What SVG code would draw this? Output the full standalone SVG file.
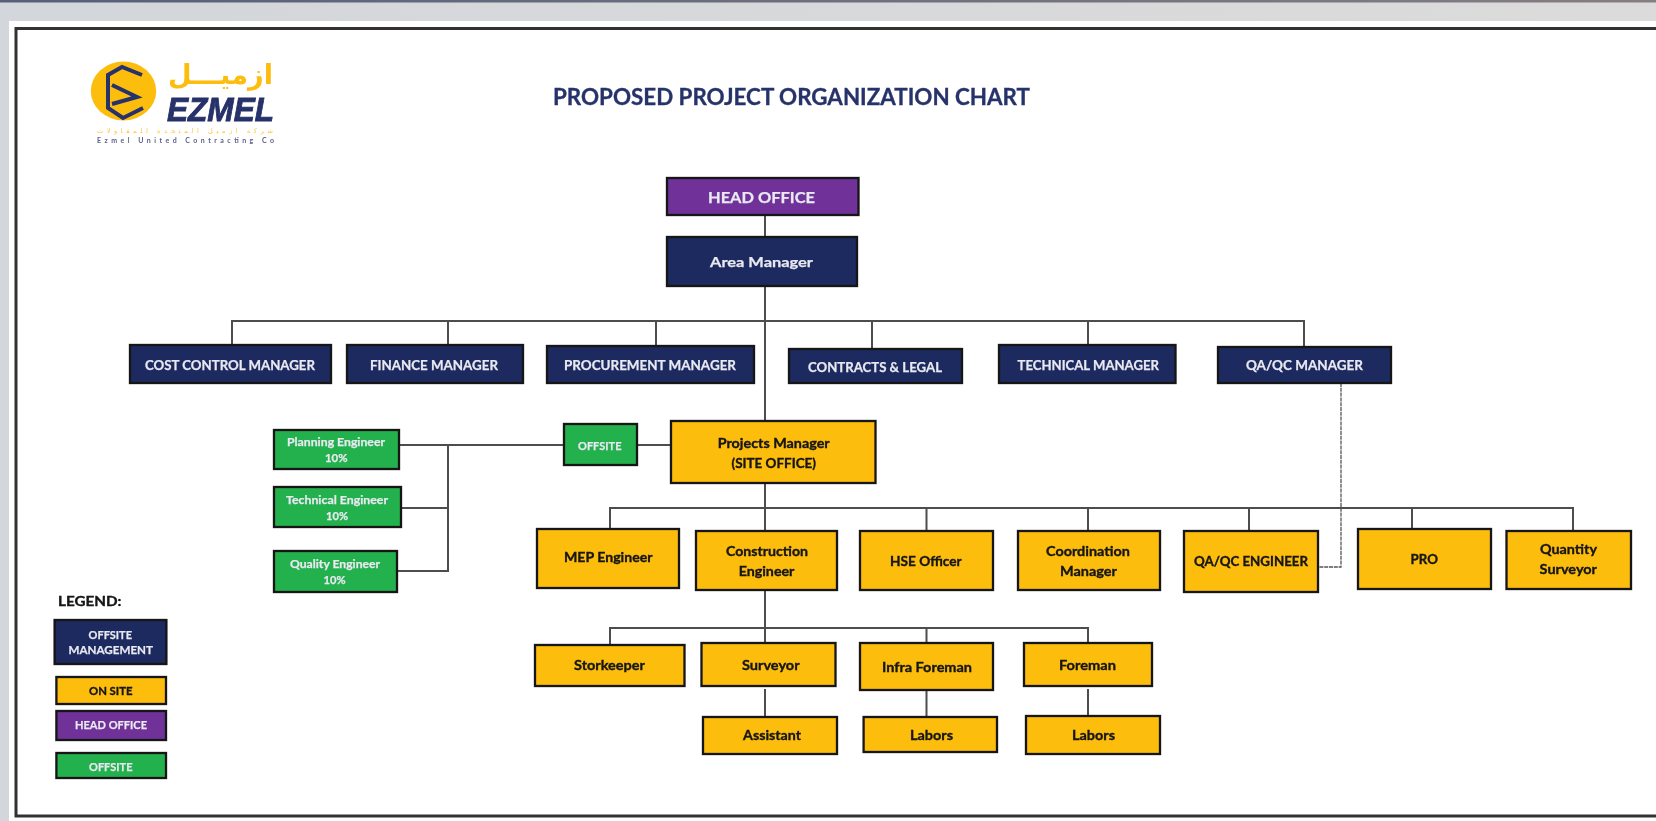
<svg xmlns="http://www.w3.org/2000/svg" width="1656" height="821" viewBox="0 0 1656 821">
<style>
text{font-family:"Lato","Open Sans","Liberation Sans",sans-serif;font-weight:700}
.b{stroke:#141414;stroke-width:2.300}
.navy{fill:#1c2a5e}.yel{fill:#fdbd10}.grn{fill:#23b14d}.pur{fill:#6f3399}
.w{fill:#e9e9f2;stroke:#e9e9f2;stroke-width:.25;font-size:14px}.k{fill:#141414;stroke:#141414;stroke-width:.35;font-size:14px}.s{font-size:12px}
.c{fill:none;stroke:#4d4d4d;stroke-width:2}
.d{fill:none;stroke:#555;stroke-width:1.300;stroke-dasharray:4 .8}
</style>
<defs>
<filter id="soft" filterUnits="userSpaceOnUse" x="0" y="0" width="1656" height="821"><feGaussianBlur stdDeviation="0.75"/></filter>
<linearGradient id="bg" x1="0" y1="0" x2="1" y2="0"><stop offset="0" stop-color="#d3d6da"/><stop offset="1" stop-color="#dcdbdb"/></linearGradient>
<linearGradient id="top" x1="0" y1="0" x2="1" y2="0"><stop offset="0" stop-color="#56607a"/><stop offset="1" stop-color="#857e82"/></linearGradient>
</defs>
<rect width="1656" height="821" fill="url(#bg)"/>
<rect width="1656" height="2.500" fill="url(#top)"/>
<rect x="9" y="21" width="1647" height="800" fill="#fff"/>
<g filter="url(#soft)">
<path d="M1660 28.500H16V816H1660" fill="none" stroke="#333" stroke-width="3"/>

<g id="connectors">
<path class="c" d="M765 215V237M765 286V421M232 345V321H1304V347M448 321V345M656 321V346M872 321V349M1088 321V345"/>
<path class="c" d="M399 445H564M637 445H671M448 445V571H397M401 508H448"/>
<path class="c" d="M765 483V531M610 529V508H1573V531M926.500 508V531M1088 508V531M1249 508V531M1412 508V529"/>
<path class="c" d="M765 590V643M610 645V628H1088V643M926.500 628V643M765 689V717M926.500 690V717M1088 689V716"/>
<path class="d" d="M1341 383V567H1319"/>
</g>

<g id="logo">
<ellipse cx="123.500" cy="91" rx="32.700" ry="29.500" fill="#fdbd10"/>
<path d="M142 75L122 67L108 75V108L123 118L143 108M112 85L137 97L112 104" fill="none" stroke="#27306a" stroke-width="4"/>
<text x="273" y="84" textLength="105" lengthAdjust="spacingAndGlyphs" direction="rtl" style="font-family:'DejaVu Sans',sans-serif;font-size:28px;fill:#fdbd10">ازميـــل</text>
<text x="167" y="120.500" textLength="107" lengthAdjust="spacingAndGlyphs" style="font-family:'Liberation Sans',sans-serif;font-style:italic;font-size:34px;fill:#27306a;stroke:#27306a;stroke-width:.9">EZMEL</text>
<text x="273" y="133" textLength="176" style="font-family:'DejaVu Sans',sans-serif;font-size:6.500px;fill:#fdc840;font-weight:400" direction="rtl">شركة ازميل المتحدة للمقاولات</text>
<text x="97" y="142.500" textLength="177" style="font-size:7px;fill:#5a6088">Ezmel United Contracting Co</text>
</g>

<text id="title" x="553" y="105" textLength="477" lengthAdjust="spacingAndGlyphs" style="font-size:22px;fill:#27336a;stroke:#27336a;stroke-width:.3">PROPOSED PROJECT ORGANIZATION CHART</text>

<g id="head-office"><rect class="b pur" x="667" y="178" width="191.500" height="37"/><text class="w" style="font-size:16px" x="708" y="203" textLength="107" lengthAdjust="spacingAndGlyphs">HEAD OFFICE</text></g>
<g id="area-manager"><rect class="b navy" x="667" y="237" width="190" height="49"/><text class="w" x="710" y="267" textLength="103" lengthAdjust="spacingAndGlyphs">Area Manager</text></g>
<g id="cost-control"><rect class="b navy" x="130" y="345" width="201" height="38"/><text class="w" x="145" y="370" textLength="170" lengthAdjust="spacingAndGlyphs">COST CONTROL MANAGER</text></g>
<g id="finance"><rect class="b navy" x="347" y="345" width="176" height="38"/><text class="w" x="370" y="370" textLength="128" lengthAdjust="spacingAndGlyphs">FINANCE MANAGER</text></g>
<g id="procurement"><rect class="b navy" x="547" y="346" width="207" height="37"/><text class="w" x="564" y="370" textLength="172" lengthAdjust="spacingAndGlyphs">PROCUREMENT MANAGER</text></g>
<g id="contracts"><rect class="b navy" x="789" y="349" width="173" height="34"/><text class="w" x="808" y="372" textLength="134" lengthAdjust="spacingAndGlyphs">CONTRACTS &amp; LEGAL</text></g>
<g id="technical-manager"><rect class="b navy" x="999" y="345" width="176.500" height="38"/><text class="w" x="1017.500" y="370" textLength="141.500" lengthAdjust="spacingAndGlyphs">TECHNICAL MANAGER</text></g>
<g id="qaqc-manager"><rect class="b navy" x="1218" y="347" width="173" height="36"/><text class="w" x="1246" y="370" textLength="117" lengthAdjust="spacingAndGlyphs">QA/QC MANAGER</text></g>

<g id="planning"><rect class="b grn" x="274" y="430" width="125" height="39"/><text class="w s" x="287" y="446" textLength="98" lengthAdjust="spacingAndGlyphs">Planning Engineer</text><text class="w s" x="325" y="462" textLength="22.500" lengthAdjust="spacingAndGlyphs">10%</text></g>
<g id="technical-engineer"><rect class="b grn" x="274" y="487" width="127" height="40"/><text class="w s" x="286" y="504" textLength="102" lengthAdjust="spacingAndGlyphs">Technical Engineer</text><text class="w s" x="326" y="520" textLength="22" lengthAdjust="spacingAndGlyphs">10%</text></g>
<g id="quality-engineer"><rect class="b grn" x="274" y="551" width="123" height="41"/><text class="w s" x="290" y="568" textLength="90" lengthAdjust="spacingAndGlyphs">Quality Engineer</text><text class="w s" x="323.500" y="584" textLength="22" lengthAdjust="spacingAndGlyphs">10%</text></g>
<g id="offsite"><rect class="b grn" x="564" y="424" width="73" height="41"/><text class="w s" x="578" y="450" textLength="43.500" lengthAdjust="spacingAndGlyphs">OFFSITE</text></g>
<g id="projects-manager"><rect class="b yel" x="671" y="421" width="204.500" height="62"/><text class="k" x="717.700" y="448" textLength="112" lengthAdjust="spacingAndGlyphs">Projects Manager</text><text class="k" x="731.500" y="468" textLength="84.500" lengthAdjust="spacingAndGlyphs">(SITE OFFICE)</text></g>

<g id="mep"><rect class="b yel" x="537" y="529" width="142" height="59"/><text class="k" x="564" y="562" textLength="88.500" lengthAdjust="spacingAndGlyphs">MEP Engineer</text></g>
<g id="construction"><rect class="b yel" x="696" y="531" width="141" height="59"/><text class="k" x="726" y="556" textLength="82" lengthAdjust="spacingAndGlyphs">Construction</text><text class="k" x="738.700" y="576" textLength="55.700" lengthAdjust="spacingAndGlyphs">Engineer</text></g>
<g id="hse"><rect class="b yel" x="860" y="531" width="133" height="59"/><text class="k" x="890" y="566" textLength="71.700" lengthAdjust="spacingAndGlyphs">HSE Officer</text></g>
<g id="coordination"><rect class="b yel" x="1018" y="531" width="142" height="59"/><text class="k" x="1046" y="556" textLength="84" lengthAdjust="spacingAndGlyphs">Coordination</text><text class="k" x="1060" y="576" textLength="57" lengthAdjust="spacingAndGlyphs">Manager</text></g>
<g id="qaqc-engineer"><rect class="b yel" x="1184" y="531" width="134" height="61"/><text class="k" x="1194" y="566" textLength="114" lengthAdjust="spacingAndGlyphs">QA/QC ENGINEER</text></g>
<g id="pro"><rect class="b yel" x="1358" y="529" width="133" height="60"/><text class="k" x="1410.600" y="564" textLength="27.400" lengthAdjust="spacingAndGlyphs">PRO</text></g>
<g id="quantity"><rect class="b yel" x="1506.500" y="531" width="124.500" height="58"/><text class="k" x="1540" y="554" textLength="57" lengthAdjust="spacingAndGlyphs">Quantity</text><text class="k" x="1539.600" y="574" textLength="57.400" lengthAdjust="spacingAndGlyphs">Surveyor</text></g>

<g id="storekeeper"><rect class="b yel" x="535" y="645" width="149.500" height="41"/><text class="k" x="574" y="670" textLength="71" lengthAdjust="spacingAndGlyphs">Storkeeper</text></g>
<g id="surveyor"><rect class="b yel" x="701.500" y="643" width="134" height="43"/><text class="k" x="742" y="670" textLength="57.600" lengthAdjust="spacingAndGlyphs">Surveyor</text></g>
<g id="infra-foreman"><rect class="b yel" x="860" y="643" width="133" height="47"/><text class="k" x="882" y="672" textLength="90" lengthAdjust="spacingAndGlyphs">Infra Foreman</text></g>
<g id="foreman"><rect class="b yel" x="1024" y="643" width="128" height="43"/><text class="k" x="1059" y="670" textLength="57" lengthAdjust="spacingAndGlyphs">Foreman</text></g>
<g id="assistant"><rect class="b yel" x="703" y="717" width="134" height="37"/><text class="k" x="743" y="740" textLength="58" lengthAdjust="spacingAndGlyphs">Assistant</text></g>
<g id="labors-1"><rect class="b yel" x="863.600" y="717" width="133.400" height="35"/><text class="k" x="910" y="740" textLength="43" lengthAdjust="spacingAndGlyphs">Labors</text></g>
<g id="labors-2"><rect class="b yel" x="1026" y="716" width="134" height="38"/><text class="k" x="1072" y="740" textLength="43" lengthAdjust="spacingAndGlyphs">Labors</text></g>

<g id="legend">
<text class="k" x="58" y="606" textLength="63.500" lengthAdjust="spacingAndGlyphs">LEGEND:</text>
<g id="legend-management"><rect class="b navy" x="54.600" y="620" width="111.800" height="44"/><text class="w s" x="88.600" y="639" textLength="43.400" lengthAdjust="spacingAndGlyphs">OFFSITE</text><text class="w s" x="68.600" y="654" textLength="84.400" lengthAdjust="spacingAndGlyphs">MANAGEMENT</text></g>
<g id="legend-onsite"><rect class="b yel" x="56.400" y="677" width="109.600" height="27"/><text class="k s" x="89" y="695" textLength="43.500" lengthAdjust="spacingAndGlyphs">ON SITE</text></g>
<g id="legend-head"><rect class="b pur" x="56.400" y="711" width="109.600" height="29"/><text class="w s" x="75" y="729" textLength="72" lengthAdjust="spacingAndGlyphs">HEAD OFFICE</text></g>
<g id="legend-offsite"><rect class="b grn" x="56.400" y="753" width="109.600" height="25"/><text class="w s" x="89" y="771" textLength="43.500" lengthAdjust="spacingAndGlyphs">OFFSITE</text></g>
</g>
</g>
</svg>
